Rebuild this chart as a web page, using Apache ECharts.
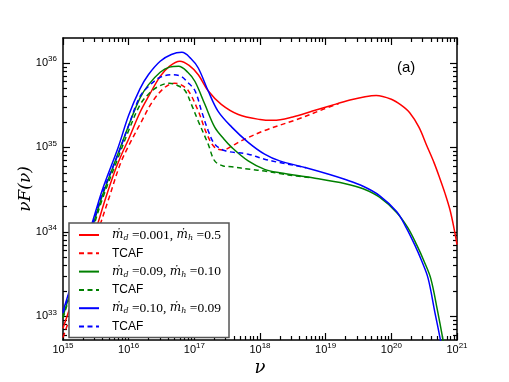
<!DOCTYPE html>
<html>
<head>
<meta charset="UTF-8">
<title>nuF(nu) spectra</title>
<script src="https://cdn.jsdelivr.net/npm/echarts@6/dist/echarts.min.js"></script>
<style>
  html, body { margin: 0; padding: 0; background: #fff; }
  #chart { width: 509px; height: 382px; }
</style>
</head>
<body>
<div id="chart"></div>
<script>
// curves as [log10(nu), log10(nuF)]
const redSolid = [[15.0, 32.86], [15.2, 33.32], [15.49, 34.0], [15.65, 34.4], [15.79, 34.72], [15.9, 34.93], [16.0, 35.1], [16.17, 35.41], [16.3, 35.6], [16.48, 35.84], [16.62, 35.96], [16.78, 36.02], [16.92, 35.97], [17.06, 35.86], [17.21, 35.67], [17.41, 35.51], [17.67, 35.39], [18.0, 35.33], [18.2, 35.32], [18.5, 35.36], [18.8, 35.43], [19.06, 35.49], [19.37, 35.56], [19.6, 35.6], [19.77, 35.615], [20.0, 35.57], [20.15, 35.5], [20.28, 35.41], [20.42, 35.24], [20.54, 35.02], [20.65, 34.82], [20.74, 34.63], [20.82, 34.45], [20.89, 34.27], [20.95, 34.06], [21.0, 33.85]];
const redTcaf = [[15.0, 32.75], [15.2, 33.2], [15.5, 33.93], [15.7, 34.4], [15.87, 34.8], [16.0, 35.02], [16.17, 35.27], [16.37, 35.55], [16.55, 35.71], [16.7, 35.76], [16.8, 35.74], [16.91, 35.67], [17.06, 35.43], [17.19, 35.16], [17.31, 35.0], [17.44, 34.97], [17.58, 35.02], [17.72, 35.08], [18.07, 35.2], [18.56, 35.33], [18.96, 35.45], [19.2, 35.52]];
const greenSolid = [[15.0, 33.0], [15.2, 33.5], [15.41, 33.97], [15.6, 34.43], [15.84, 34.93], [16.0, 35.26], [16.17, 35.58], [16.3, 35.74], [16.48, 35.89], [16.62, 35.95], [16.76, 35.96], [16.9, 35.89], [17.01, 35.78], [17.16, 35.51], [17.31, 35.24], [17.45, 35.1], [17.57, 35.0], [17.82, 34.84], [18.07, 34.74], [18.3, 34.7], [18.8, 34.64], [19.3, 34.57], [19.57, 34.51], [19.82, 34.41], [20.08, 34.23], [20.25, 34.05], [20.39, 33.84], [20.5, 33.65], [20.6, 33.45], [20.7, 33.08], [20.78, 32.75], [20.82, 32.55]];
const greenTcaf = [[15.0, 32.98], [15.2, 33.47], [15.41, 33.93], [15.6, 34.39], [15.84, 34.88], [16.0, 35.2], [16.17, 35.5], [16.3, 35.63], [16.45, 35.72], [16.62, 35.76], [16.75, 35.73], [16.86, 35.67], [16.96, 35.5], [17.06, 35.31], [17.21, 35.04], [17.31, 34.84], [17.44, 34.78], [17.57, 34.77], [17.85, 34.74], [18.07, 34.72], [18.3, 34.69], [18.56, 34.66], [18.8, 34.64]];
const blueSolid = [[15.0, 33.06], [15.2, 33.55], [15.41, 34.02], [15.6, 34.5], [15.84, 35.0], [16.0, 35.38], [16.17, 35.69], [16.3, 35.86], [16.48, 36.02], [16.65, 36.1], [16.81, 36.125], [16.95, 36.05], [17.06, 35.94], [17.21, 35.67], [17.36, 35.43], [17.57, 35.24], [17.82, 35.06], [18.07, 34.92], [18.3, 34.84], [18.7, 34.76], [19.06, 34.68], [19.3, 34.62], [19.57, 34.54], [19.82, 34.43], [20.08, 34.24], [20.22, 34.06], [20.36, 33.84], [20.46, 33.66], [20.56, 33.45], [20.66, 33.06], [20.74, 32.75], [20.78, 32.55]];
const blueTcaf = [[15.0, 33.04], [15.2, 33.52], [15.41, 33.98], [15.6, 34.46], [15.84, 34.92], [16.0, 35.26], [16.17, 35.6], [16.3, 35.72], [16.48, 35.83], [16.68, 35.86], [16.8, 35.84], [16.9, 35.77], [17.01, 35.67], [17.11, 35.43], [17.21, 35.2], [17.31, 35.04], [17.47, 34.96], [17.82, 34.92], [18.07, 34.86], [18.3, 34.82], [18.5, 34.79], [18.7, 34.76]];

const legendNames = {
    r1: '{m|ṁ}{s|d}{t| =0.001, }{m|ṁ}{s|h}{t| =0.5}',
    r2: '{c|TCAF}',
    g1: '{m|ṁ}{s|d}{t| =0.09, }{m|ṁ}{s|h}{t| =0.10}',
    g2: '{c|TCAF}',
    b1: '{m|ṁ}{s|d}{t| =0.10, }{m|ṁ}{s|h}{t| =0.09}',
    b2: '{c|TCAF}'
};

// axis ranges in decades
const xMin = 15, xMax = 21;
const yMin = 32.72, yMax = 36.295;
const xMajor = [15, 16, 17, 18, 19, 20, 21];
const yMajor = [33, 34, 35, 36];
const xMinor = [];
for (let e = 15; e < 21; e++) for (let k = 2; k <= 9; k++) xMinor.push(e + Math.log10(k));
const yMinor = [];
for (let e = 32; e < 37; e++) for (let k = 2; k <= 9; k++) {
    const v = e + Math.log10(k);
    if (v > yMin && v < yMax) yMinor.push(v);
}

const supLabel = v => '{b|10}{s|' + Math.round(v) + '}';
const labelRich = {
    b: { fontFamily: 'Liberation Sans', fontSize: 11, lineHeight: 16, color: '#000' },
    s: { fontFamily: 'Liberation Sans', fontSize: 8, lineHeight: 8, verticalAlign: 'top', color: '#000' }
};

function xAx(pos, minor, labels) {
    return {
        type: 'value', position: pos, min: xMin, max: xMax,
        axisLine: { show: !minor, onZero: false, lineStyle: { color: '#000', width: 1.5 } },
        axisTick: { show: true, inside: true, length: minor ? 4 : 7, customValues: minor ? xMinor : xMajor, lineStyle: { color: '#000', width: 1.2 } },
        axisLabel: labels ? { show: true, customValues: xMajor, margin: 2, formatter: supLabel, rich: labelRich } : { show: false },
        splitLine: { show: false }, minorTick: { show: false }
    };
}
function yAx(pos, minor, labels) {
    return {
        type: 'value', position: pos, min: yMin, max: yMax,
        axisLine: { show: !minor, onZero: false, lineStyle: { color: '#000', width: 1.5 } },
        axisTick: { show: true, inside: true, length: minor ? 4 : 7, customValues: minor ? yMinor : yMajor, lineStyle: { color: '#000', width: 1.2 } },
        axisLabel: labels ? { show: true, customValues: yMajor, margin: 6, formatter: supLabel, rich: labelRich } : { show: false },
        splitLine: { show: false }, minorTick: { show: false }
    };
}

const xAxes = [xAx('bottom', false, true), xAx('bottom', true, false), xAx('top', false, false), xAx('top', true, false)];
Object.assign(xAxes[0], {
    name: 'ν', nameLocation: 'middle', nameGap: 19, nameMoveOverlap: false,
    nameTextStyle: { fontFamily: 'DejaVu Serif', fontStyle: 'italic', fontSize: 18, color: '#000' }
});
const yAxes = [yAx('left', false, true), yAx('left', true, false), yAx('right', false, false), yAx('right', true, false)];
Object.assign(yAxes[0], {
    name: 'νF(ν)', nameLocation: 'middle', nameGap: 29, nameMoveOverlap: false,
    nameTextStyle: { fontFamily: 'DejaVu Serif', fontStyle: 'italic', fontSize: 17, color: '#000' }
});

function line(name, data, color, dashed) {
    return {
        name: name, type: 'line', data: data, smooth: 0.35, showSymbol: false, symbol: 'none',
        xAxisIndex: 0, yAxisIndex: 0, animation: false,
        lineStyle: { color: color, width: 1.5, type: dashed ? [5, 3.5] : 'solid' },
        itemStyle: { color: color }
    };
}

const chart = echarts.init(document.getElementById('chart'));
chart.setOption({
    animation: false,
    grid: { left: 63, right: 52, top: 38, bottom: 40 },
    xAxis: xAxes,
    yAxis: yAxes,
    legend: {
        orient: 'vertical', left: 69, top: 223,
        padding: [5, 8, 5, 9], itemGap: 5.3, itemWidth: 20, itemHeight: 14,
        backgroundColor: '#fff', borderColor: '#555', borderWidth: 1.5,
        itemStyle: { opacity: 0 },
        data: ['r1', 'r2', 'g1', 'g2', 'b1', 'b2'],
        formatter: n => legendNames[n],
        textStyle: {
            padding: [0, 0, 0, 8],
            rich: {
                m: { fontFamily: 'DejaVu Serif', fontStyle: 'italic', fontSize: 12, lineHeight: 14, color: '#000' },
                s: { fontFamily: 'DejaVu Serif', fontStyle: 'italic', fontSize: 8, lineHeight: 8, verticalAlign: 'bottom', color: '#000' },
                t: { fontFamily: 'Liberation Serif', fontSize: 13.5, lineHeight: 14, color: '#000' },
                c: { fontFamily: 'Liberation Sans', fontSize: 12, lineHeight: 14, color: '#000' }
            }
        }
    },
    graphic: [{ type: 'text', left: 397, top: 60, style: { text: '(a)', font: '15px Liberation Sans', fill: '#000' } }],
    series: [
        line('r1', redSolid, '#ff0000', false),
        line('r2', redTcaf, '#ff0000', true),
        line('g1', greenSolid, '#008000', false),
        line('g2', greenTcaf, '#008000', true),
        line('b1', blueSolid, '#0000ff', false),
        line('b2', blueTcaf, '#0000ff', true)
    ]
});
</script>
</body>
</html>
